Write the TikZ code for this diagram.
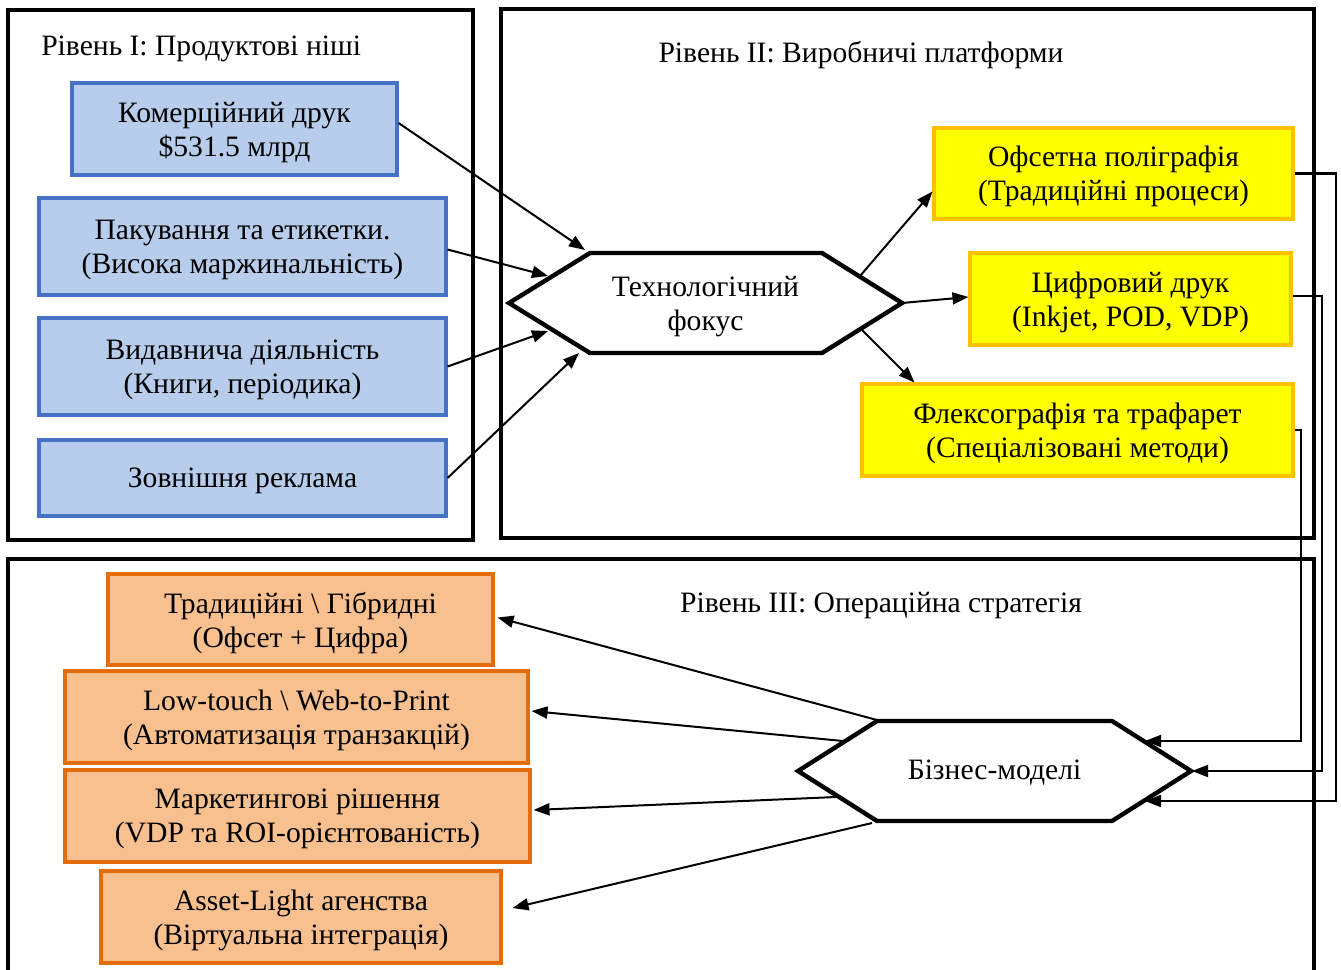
\documentclass[tikz,border=0pt]{standalone}
\usepackage{fontspec}
\setmainfont{Liberation Serif}
\usetikzlibrary{arrows.meta,calc}
\definecolor{nicheFill}{HTML}{B7CDEB}
\definecolor{nicheLine}{HTML}{4472C4}
\definecolor{platFill}{HTML}{FFFF00}
\definecolor{platLine}{HTML}{FFC000}
\definecolor{opFill}{HTML}{F8C08F}
\definecolor{opLine}{HTML}{E46C0A}
\begin{document}
\begin{tikzpicture}[x=0.75pt,y=-0.75pt,
  txt/.style={font=\fontsize{22.2}{25.5}\selectfont, align=center, inner sep=0pt},
  boxtxt/.style={txt, text depth=0pt},
  frame/.style={line width=3pt, line join=miter},
  niche/.style={boxtxt, draw=nicheLine, fill=nicheFill, line width=2.3pt},
  plat/.style={boxtxt, draw=platLine, fill=platFill, line width=2.3pt},
  oper/.style={boxtxt, draw=opLine, fill=opFill, line width=2.3pt},
  hexline/.style={line width=3.3pt, line join=miter, fill=white},
  arr/.style={line width=1.5pt, -{Triangle[length=12pt,width=9pt]}},
  elbow/.style={line width=1.5pt, -{Triangle[length=12pt,width=9pt]}}]
\useasboundingbox (0,0) rectangle (1341,970);

% level frames
\draw[frame] (8,10) rectangle (473,540);
\draw[frame] (501,9) rectangle (1314,538);
\draw[frame] (8,975) -- (8,559) -- (1314,559) -- (1314,975);

% level titles
\node[txt, anchor=west] (t1) at (41,49) {Рівень I: Продуктові ніші};
\node[txt] (t2) at (861,55) {Рівень II: Виробничі платформи};
\node[txt] (t3) at (881,606) {Рівень III: Операційна стратегія};

% level I: product niches
\node[niche, minimum width=243.75pt, minimum height=69pt] (kom) at (234.5,129) {Комерційний друк\\\$531.5 млрд};
\node[niche, minimum width=305.25pt, minimum height=72.75pt] (pak) at (242.5,246.5) {Пакування та етикетки.\\(Висока маржинальність)};
\node[niche, minimum width=305.25pt, minimum height=72.75pt] (vyd) at (242.5,366.5) {Видавнича діяльність\\(Книги, періодика)};
\node[niche, minimum width=305.25pt, minimum height=57pt] (zov) at (242.5,478) {Зовнішня реклама};

% level II: production platforms
\node[plat, minimum width=269.25pt, minimum height=68.25pt] (ofs) at (1113.5,173.5) {Офсетна поліграфія\\(Традиційні процеси)};
\node[plat, minimum width=240.75pt, minimum height=69pt] (dig) at (1130.5,299) {Цифровий друк\\(Inkjet, POD, VDP)};
\node[plat, minimum width=323.25pt, minimum height=69pt] (flx) at (1077.5,430) {Флексографія та трафарет\\(Спеціалізовані методи)};

% technology focus hexagon
\draw[hexline] (509,303) -- (590,253) -- (822,253) -- (902,303) -- (822,353) -- (590,353) -- cycle;
\node[txt] (tech) at (705.5,307) {Технологічний\\фокус};
\coordinate (tech-in1) at (585,250);
\coordinate (tech-in2) at (548,276);
\coordinate (tech-in3) at (548,331);
\coordinate (tech-in4) at (579,353);
\coordinate (tech-out1) at (860,276);
\coordinate (tech-out2) at (902,303);
\coordinate (tech-out3) at (862,330);

% level III: operating strategy
\node[oper, minimum width=288.75pt, minimum height=68.25pt] (trd) at (300.5,619.5) {Традиційні \textbackslash{} Гібридні\\(Офсет + Цифра)};
\node[oper, minimum width=347.25pt, minimum height=69pt] (low) at (296.5,717) {Low-touch \textbackslash{} Web-to-Print\\(Автоматизація транзакцій)};
\node[oper, minimum width=348.75pt, minimum height=69pt] (mkt) at (297.5,816) {Маркетингові рішення\\(VDP та ROI-орієнтованість)};
\node[oper, minimum width=300pt, minimum height=69pt] (ast) at (301,917) {Asset-Light агенства\\(Віртуальна інтеграція)};

% business models hexagon
\draw[hexline] (798,771) -- (877,721) -- (1112,721) -- (1191,771) -- (1112,821) -- (877,821) -- cycle;
\node[txt] (biz) at (994.5,773) {Бізнес-моделі};
\coordinate (biz-out1) at (877,720);
\coordinate (biz-out2) at (843,741);
\coordinate (biz-out3) at (836,797);
\coordinate (biz-out4) at (872,823);
\coordinate (biz-in1) at (1145,741);
\coordinate (biz-in2) at (1192,771);
\coordinate (biz-in3) at (1145,801);

% niches into technology focus
\draw[arr] ($(kom.east)+(0,-6)$) -- (tech-in1);
\draw[arr] ($(pak.east)+(0,3)$) -- (tech-in2);
\draw[arr] (vyd.east) -- (tech-in3);
\draw[arr] (zov.east) -- (tech-in4);

% technology focus to platforms
\draw[arr] (tech-out1) -- ($(ofs.west)+(0,18)$);
\draw[arr] (tech-out2) -- ($(dig.west)+(0,-2)$);
\draw[arr] (tech-out3) -- ($(flx.north west)+(54,0)$);

% platforms into business models
\draw[elbow] (flx.east) -| (1301,741) -- (biz-in1);
\draw[elbow] ($(dig.east)+(0,-3)$) -| (1322,771) -- (biz-in2);
\draw[elbow] (ofs.east) -| (1336,801) -- (biz-in3);

% business models to operating strategies
\draw[arr] (biz-out1) -- ($(trd.east)+(3,-2)$);
\draw[arr] (biz-out2) -- ($(low.east)+(2,-6)$);
\draw[arr] (biz-out3) -- ($(mkt.east)+(2,-6)$);
\draw[arr] (biz-out4) -- ($(ast.east)+(10,-9)$);
\end{tikzpicture}
\end{document}
